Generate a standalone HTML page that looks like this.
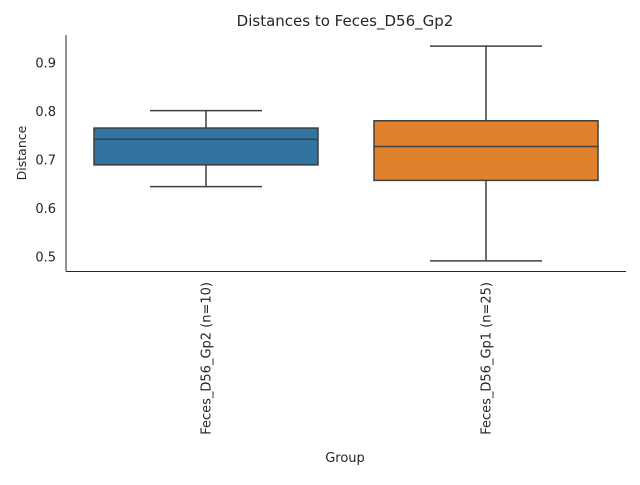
<!DOCTYPE html>
<html><head><meta charset="utf-8"><style>
body{margin:0;background:#fff;}
svg text{font-family:"DejaVu Sans","Liberation Sans",sans-serif;fill:#262626;}
</style></head><body>
<svg id="chart" width="640" height="480" xmlns="http://www.w3.org/2000/svg">
<text x="345" y="26" text-anchor="middle" font-size="15">Distances to Feces_D56_Gp2</text>
<text transform="translate(26,153) rotate(-90)" text-anchor="middle" font-size="12.5">Distance</text>
<text x="345" y="462" text-anchor="middle" font-size="13">Group</text>
<g id="yticks"></g><g id="boxes"></g><g id="xticks"></g>
<line x1="66" y1="35" x2="66" y2="271.5" stroke="#262626" stroke-width="1"/>
<line x1="66" y1="271.5" x2="626" y2="271.5" stroke="#262626" stroke-width="1"/>
</svg>
<script>
const categories=["Feces_D56_Gp2 (n=10)","Feces_D56_Gp1 (n=25)"];
const whiskerLow=[0.645,0.492];
const q1=[0.690,0.658];
const median=[0.743,0.728];
const q3=[0.766,0.781];
const whiskerHigh=[0.802,0.935];
const yTicks=[0.5,0.6,0.7,0.8,0.9];
const colors=["#3274a1","#e1812c"];
const NS="http://www.w3.org/2000/svg";
const x0=66,x1=626,yMin=0.471,yMax=0.958,pTop=35,pBot=271;
function y(v){return pBot-(v-yMin)/(yMax-yMin)*(pBot-pTop);}
const band=(x1-x0)/categories.length;
function xc(i){return x0+band*(i+0.5);}
function mk(tag,attrs,parent){const e=document.createElementNS(NS,tag);for(const k in attrs)e.setAttribute(k,attrs[k]);parent.appendChild(e);return e;}
const yt=document.getElementById('yticks');
yTicks.forEach(t=>{
 const tx=mk('text',{x:56,y:y(t)+4.5,'text-anchor':'end','font-size':'13'},yt);
 
 
 tx.textContent=t.toFixed(1);
});
const bx=document.getElementById('boxes');
const xt=document.getElementById('xticks');
categories.forEach((c,i)=>{
 const g=mk('g',{},bx);
 
 
 const cx=xc(i),w=band*0.8,l=cx-w/2,r=cx+w/2,st='#3f3f3f';
 const wl=mk('line',{x1:cx,x2:cx,y1:y(whiskerLow[i]),y2:y(q1[i]),stroke:st,'stroke-width':1.5},g);
 
 
 const wh=mk('line',{x1:cx,x2:cx,y1:y(q3[i]),y2:y(whiskerHigh[i]),stroke:st,'stroke-width':1.5},g);
 
 
 const cl=mk('line',{x1:cx-w/4,x2:cx+w/4,y1:y(whiskerLow[i]),y2:y(whiskerLow[i]),stroke:st,'stroke-width':1.5},g);
 
 
 const ch=mk('line',{x1:cx-w/4,x2:cx+w/4,y1:y(whiskerHigh[i]),y2:y(whiskerHigh[i]),stroke:st,'stroke-width':1.5},g);
 
 
 const b=mk('rect',{x:l,y:y(q3[i]),width:w,height:y(q1[i])-y(q3[i]),fill:colors[i],stroke:st,'stroke-width':1.5},g);
 
 
 const m=mk('line',{x1:l,x2:r,y1:y(median[i]),y2:y(median[i]),stroke:st,'stroke-width':1.5},g);
 
 
 const tx=mk('text',{transform:`translate(${cx+4.5},282) rotate(-90)`,'text-anchor':'end','font-size':'13'},xt);
 
 
 tx.textContent=c;
});
</script>
</body></html>
